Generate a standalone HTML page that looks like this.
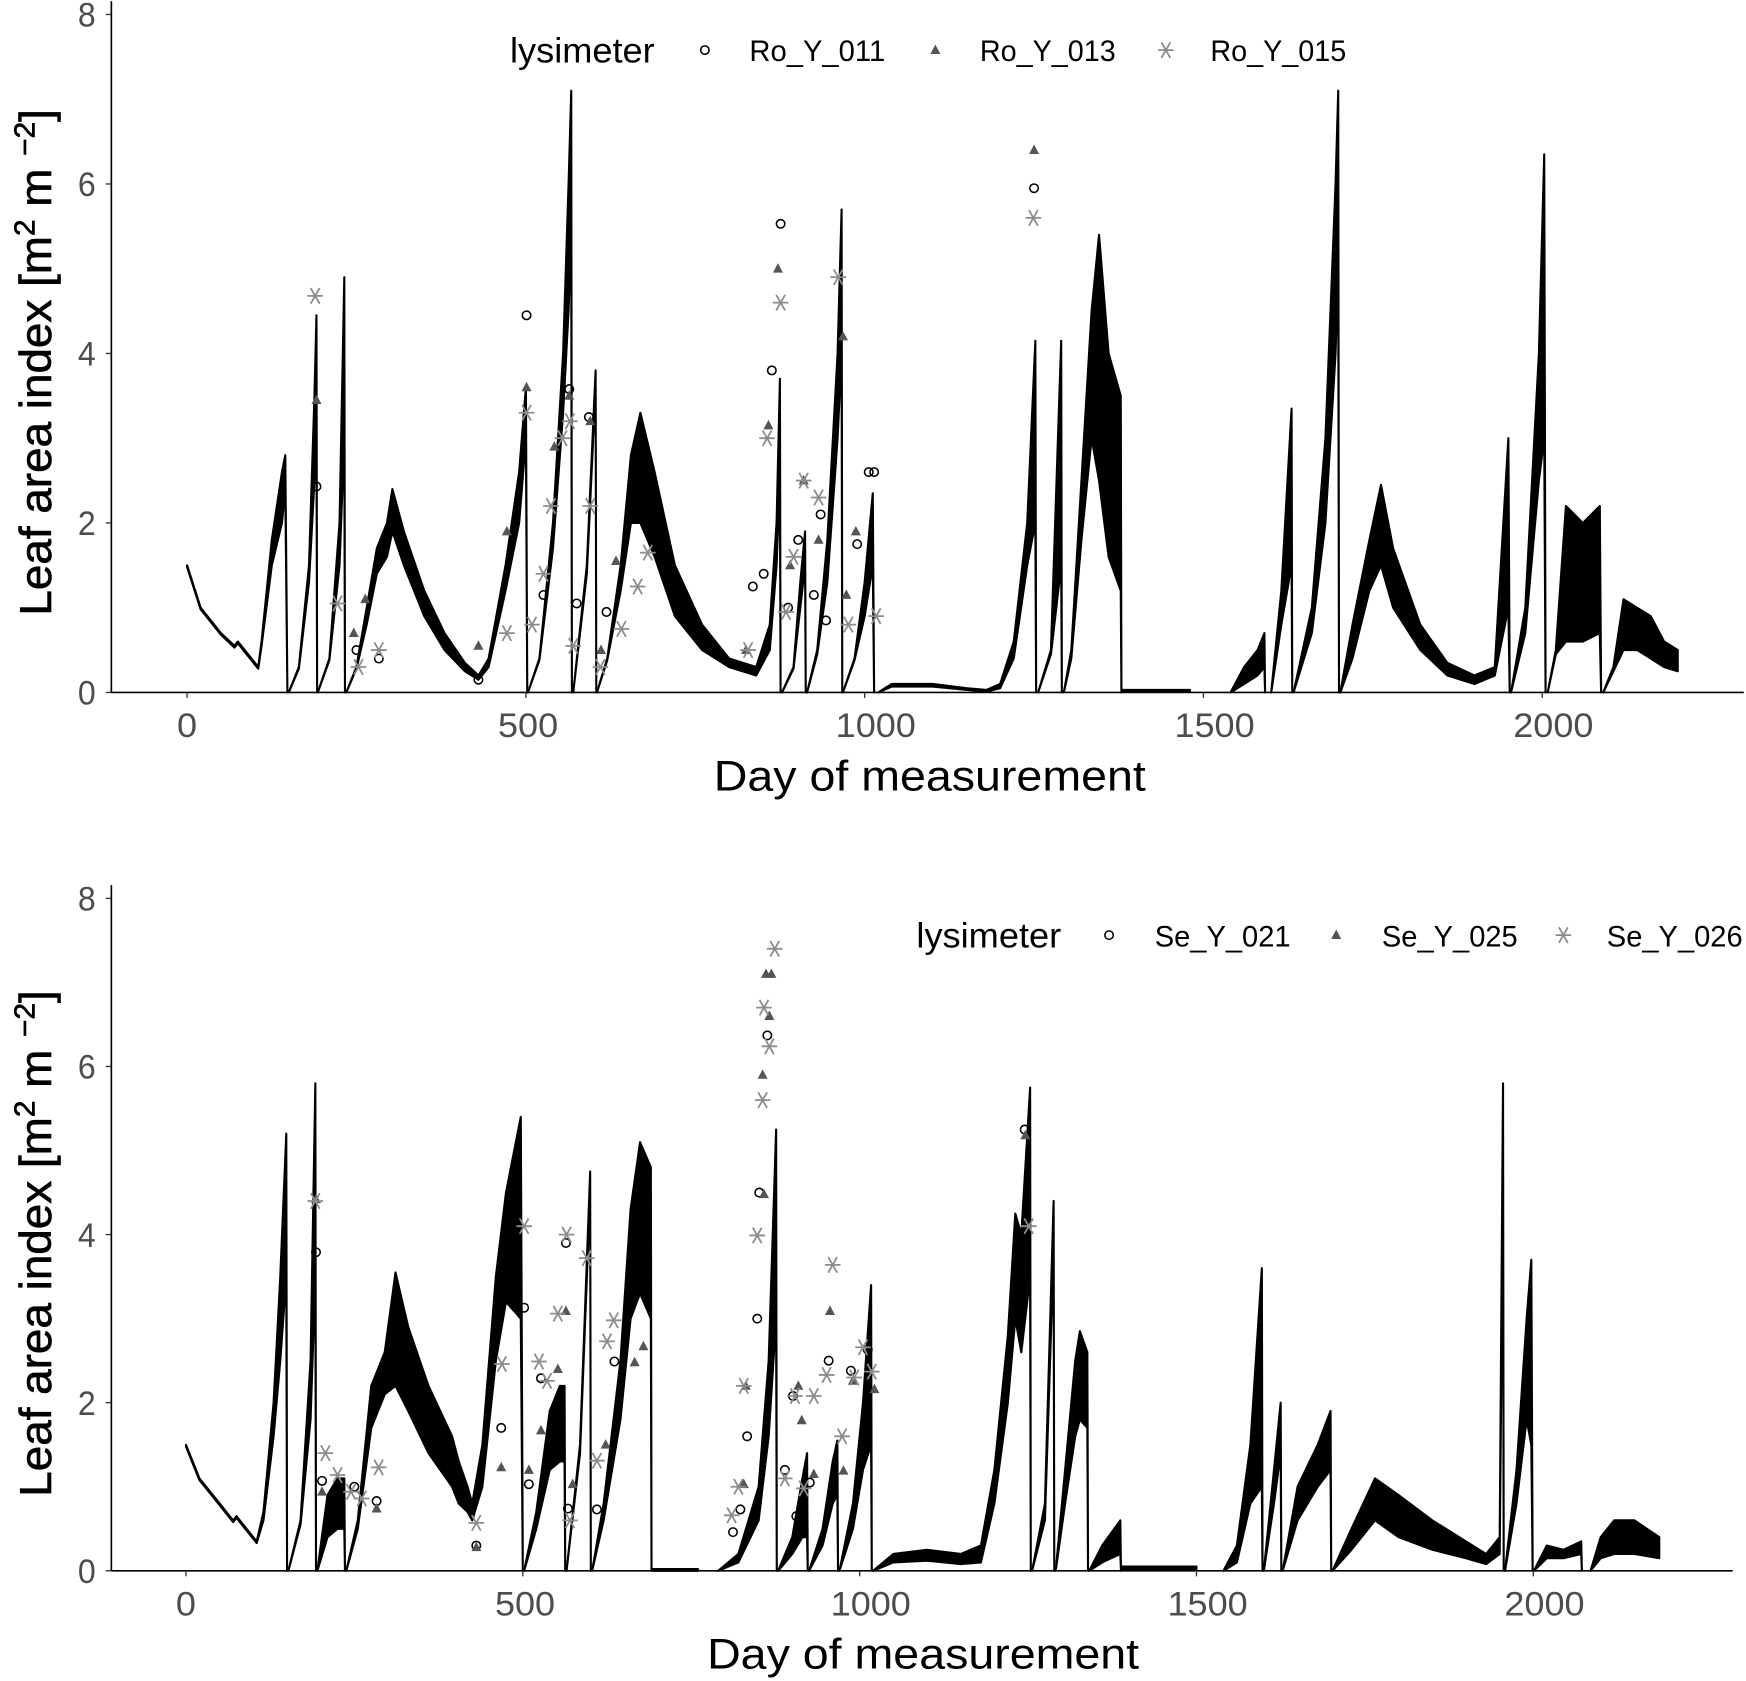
<!DOCTYPE html>
<html><head><meta charset="utf-8"><style>
html,body{margin:0;padding:0;background:#fff;}
svg{display:block;font-family:"Liberation Sans",sans-serif;}
</style></head><body>
<svg id="chart" width="1746" height="1681" viewBox="0 0 1568 1510" preserveAspectRatio="none" xmlns="http://www.w3.org/2000/svg"></svg>
<script>
// ---- Top panel (Ro) simulated envelope: days, upper, lower (null = segment break)
const roDays=[0,20,50,70,75,90,105,110,125,140,145,148,null,150,165,180,188,191,192,null,193,210,225,232,233,null,235,250,265,280,295,303,320,350,380,410,430,445,470,490,500,502,null,503,520,540,555,563,567,568,null,570,590,603,604,null,605,620,640,655,669,690,720,760,800,840,860,870,875,876,null,878,895,905,912,913,null,915,930,945,960,966,967,null,968,985,1000,1012,1014,null,1020,1040,1100,1150,1180,1200,1220,1240,1252,1253,null,1256,1275,1290,1291,null,1294,1305,1320,1335,1346,1360,1378,1379,null,1380,1480,null,1540,1560,1580,1590,1591,null,1600,1615,1630,1631,null,1633,1660,1680,1695,1699,1700,null,1702,1720,1745,1762,1780,1820,1860,1900,1930,1950,1952,null,1954,1975,1995,2003,2005,null,2008,2020,2035,2060,2085,2087,null,2090,2105,2120,2140,2160,2180,2200];
const roHi=[1.5,1.0,0.7,0.55,0.6,0.45,0.3,0.6,1.8,2.6,2.8,0,null,0,0.3,1.5,3.5,4.45,0,null,0,0.4,2.0,4.9,0,null,0,0.3,1.0,1.7,2.0,2.4,1.9,1.2,0.7,0.35,0.2,0.4,1.5,2.6,3.6,0,null,0,0.4,2.0,4.0,6.0,7.1,0,null,0,1.5,3.8,0,null,0,0.4,1.5,2.8,3.3,2.6,1.5,0.8,0.4,0.3,0.8,2.0,3.7,0,null,0,0.3,1.3,1.9,0,null,0,0.5,1.8,4.0,5.7,0,null,0,0.4,1.3,2.35,0,null,0,0.1,0.1,0.05,0.03,0.1,0.6,2.0,4.15,0,null,0,0.5,4.15,0,null,0,0.5,2.5,4.5,5.4,4.0,3.5,0,null,0.03,0.03,null,0,0.3,0.5,0.7,0,null,0,1.2,3.35,0,null,0,1.0,3.0,6.0,7.1,0,null,0,0.8,1.8,2.45,1.7,0.8,0.35,0.2,0.3,3.0,0,null,0,1.0,4.0,6.35,0,null,0,0.5,2.2,2.0,2.2,0,null,0,0.3,1.1,1.0,0.9,0.6,0.5];
const roLo=[1.48,0.98,0.68,0.53,0.58,0.43,0.28,0.55,1.5,2.0,2.4,0,null,0,0.28,1.3,2.5,3.0,0,null,0,0.38,1.5,3.0,0,null,0,0.28,0.8,1.4,1.6,1.9,1.5,0.9,0.5,0.25,0.15,0.3,1.2,2.0,3.0,0,null,0,0.38,1.7,3.3,4.5,5.5,0,null,0,1.4,3.6,0,null,0,0.38,1.2,2.0,2.0,1.6,0.9,0.5,0.3,0.2,0.5,1.5,2.5,0,null,0,0.28,1.0,1.5,0,null,0,0.45,1.3,3.0,4.0,0,null,0,0.38,0.9,1.5,0,null,0,0.07,0.07,0.03,0.01,0.05,0.4,1.5,2.0,0,null,0,0.45,1.5,0,null,0,0.4,1.8,3.0,2.5,1.6,1.2,0,null,0.01,0.01,null,0,0.1,0.2,0.3,0,null,0,0.8,1.5,0,null,0,0.7,2.0,4.0,5.0,0,null,0,0.4,1.2,1.5,1.0,0.5,0.2,0.1,0.2,1.0,0,null,0,0.7,2.5,3.0,0,null,0,0.45,0.6,0.6,0.7,0,null,0,0.25,0.5,0.5,0.4,0.3,0.25];
// ---- Top panel observations
const roCircD=[191,250,283,430,501,526,564,575,593,619,835,851,863,876,887,902,925,935,943,989,1006,1014,1250];
const roCircV=[2.43,0.5,0.4,0.15,4.45,1.15,3.58,1.05,3.25,0.95,1.25,1.4,3.8,5.53,1.0,1.8,1.15,2.1,0.85,1.75,2.6,2.6,5.95];
const roTriD=[191,246,263,430,472,501,542,564,595,633,611,858,872,890,910,932,968,973,987,1250,825];
const roTriV=[3.45,0.7,1.1,0.55,1.9,3.6,2.9,3.5,3.2,1.55,0.5,3.15,5.0,1.5,2.5,1.8,4.2,1.15,1.9,6.4,0.5];
const roAstD=[189,222,253,283,472,501,509,526,537,554,565,570,595,610,641,665,680,828,856,876,884,895,910,932,961,976,1017,1249];
const roAstV=[4.68,1.05,0.3,0.5,0.7,3.3,0.8,1.4,2.2,3.0,3.2,0.55,2.2,0.3,0.75,1.25,1.65,0.5,3.0,4.6,0.95,1.6,2.5,2.3,4.9,0.8,0.9,5.6];
// ---- Bottom panel (Se) simulated envelope
const seDays=[0,20,50,70,75,90,105,115,130,140,149,150,null,152,170,185,192,193,null,195,210,225,235,236,null,238,255,275,295,311,330,360,395,405,418,425,440,460,475,497,500,null,502,520,540,555,562,563,null,565,585,600,601,null,603,620,645,660,674,690,691,null,692,760,null,790,820,850,865,876,877,null,879,900,915,922,923,null,925,945,960,967,968,null,970,990,1005,1017,1018,null,1020,1050,1100,1150,1180,null,1180,1200,1220,1231,1240,1253,1254,null,1256,1275,1288,1289,null,1291,1305,1320,1327,1338,1339,null,1341,1360,1387,1388,null,1389,1500,null,1540,1560,1580,1597,1598,null,1600,1615,1625,1626,null,1628,1650,1680,1699,1700,null,1702,1730,1765,1800,1850,1900,1930,1950,1955,1956,null,1958,1975,1990,1997,1999,null,2001,2020,2045,2071,2072,null,2085,2100,2120,2150,2187];
const seHi=[1.5,1.1,0.8,0.6,0.65,0.5,0.35,0.7,2.0,3.5,5.2,0,null,0,0.6,2.5,5.8,0,null,0,0.9,1.1,1.1,0,null,0,0.6,2.2,2.6,3.55,2.9,2.2,1.6,1.3,1.0,0.8,1.5,3.5,4.5,5.4,0,null,0,0.7,1.9,2.2,2.2,0,null,0,1.5,4.75,0,null,0,0.8,2.5,4.3,5.1,4.8,0,null,0.02,0.02,null,0,0.2,1.0,2.5,5.25,0,null,0,0.4,1.1,1.4,0,null,0,0.5,1.3,1.55,0,null,0,0.8,2.0,3.4,0,null,0,0.2,0.25,0.2,0.3,null,0.3,1.2,2.8,4.25,4.0,5.75,0,null,0,0.8,4.4,0,null,0,1.2,2.5,2.85,2.6,0,null,0,0.3,0.6,0,null,0.05,0.05,null,0,0.3,1.5,3.6,0,null,0,1.2,2.0,0,null,0,1.0,1.5,1.9,0,null,0,0.5,1.1,0.9,0.6,0.35,0.2,0.4,5.8,0,null,0,1.2,3.0,3.7,0,null,0,0.3,0.25,0.35,0,null,0,0.4,0.6,0.6,0.4];
const seLo=[1.48,1.08,0.78,0.58,0.63,0.48,0.33,0.6,1.6,2.5,3.5,0,null,0,0.55,1.8,3.5,0,null,0,0.4,0.5,0.5,0,null,0,0.5,1.7,2.1,2.2,1.9,1.4,1.0,0.8,0.7,0.6,1.0,2.5,3.2,3.0,0,null,0,0.5,1.2,1.3,1.3,0,null,0,1.4,4.5,0,null,0,0.6,1.8,3.0,3.3,3.0,0,null,0.0,0.0,null,0,0.1,0.6,1.6,3.0,0,null,0,0.2,0.4,0.4,0,null,0,0.3,0.8,0.9,0,null,0,0.5,1.2,1.5,0,null,0,0.1,0.12,0.08,0.1,null,0.1,0.8,2.0,3.0,2.6,3.5,0,null,0,0.6,3.8,0,null,0,0.8,1.6,1.8,1.7,0,null,0,0.1,0.2,0,null,0.02,0.02,null,0,0.1,0.8,1.0,0,null,0,0.8,1.4,0,null,0,0.6,1.0,1.2,0,null,0,0.25,0.6,0.4,0.25,0.15,0.08,0.2,4.5,0,null,0,0.8,1.8,1.5,0,null,0,0.15,0.15,0.2,0,null,0,0.15,0.2,0.2,0.15];
// ---- Bottom panel observations
const seCircD=[202,250,283,431,468,502,509,527,564,567,610,636,812,823,833,848,851,863,889,901,906,926,954,987,1012,1245,193];
const seCircV=[1.07,1.0,0.83,0.3,1.7,3.13,1.03,2.29,3.9,0.74,0.73,2.49,0.46,0.73,1.6,3.0,4.5,6.37,1.2,2.08,0.65,1.05,2.5,2.38,2.63,5.25,3.79];
const seTriD=[202,283,431,468,509,527,552,564,574,623,666,679,831,828,856,858,861,869,866,914,909,932,956,976,990,1022,1246,193];
const seTriV=[0.94,0.74,0.28,1.23,1.2,1.67,2.4,3.09,1.03,1.5,2.48,2.67,2.2,1.03,5.9,4.48,7.1,7.1,6.6,1.79,2.2,1.15,3.09,1.19,2.26,2.16,5.18,4.42];
const seAstD=[192,207,225,245,261,286,431,469,502,524,536,552,565,570,595,610,625,635,810,820,828,848,856,858,866,874,889,904,917,932,951,960,974,992,1018,1005,1251];
const seAstV=[4.4,1.4,1.14,0.94,0.86,1.23,0.57,2.46,4.1,2.49,2.26,3.06,4.0,0.6,3.72,1.31,2.73,2.98,0.66,1.0,2.2,3.99,5.6,6.7,6.24,7.4,1.1,2.08,0.98,2.08,2.33,3.64,1.6,2.3,2.37,2.66,4.1];
const xTicks=[0,500,1000,1500,2000];
const yTicks=[0,2,4,6,8];
const roNames=["Ro_Y_011","Ro_Y_013","Ro_Y_015"];
const seNames=["Se_Y_021","Se_Y_025","Se_Y_026"];

const NS="http://www.w3.org/2000/svg";
const svg=document.getElementById('chart');
function mk(tag,attrs,parent,text){const e=document.createElementNS(NS,tag);for(const k in attrs)e.setAttribute(k,attrs[k]);if(text!==undefined)e.textContent=text;(parent||svg).appendChild(e);return e;}

function panel(P,days,hi,lo,obs,names,pname){
  const g=mk('g',{});
  
  
  const xs=d=>P.x0+(d/2000)*(P.x2000-P.x0);
  const ys=v=>P.y0-(v/8)*(P.y0-P.y8);
  let seg=[];
  const flush=()=>{ if(seg.length){
    const up=seg.map(i=>xs(days[i]).toFixed(1)+','+ys(hi[i]).toFixed(1));
    const dn=seg.slice().reverse().map(i=>xs(days[i]).toFixed(1)+','+ys(lo[i]).toFixed(1));
    const p=mk('polygon',{points:up.concat(dn).join(' '),fill:'#000',stroke:'#000','stroke-width':1.9,'stroke-linejoin':'round'},g);
    
    
  } seg=[]; };
  for(let i=0;i<days.length;i++){ if(days[i]===null){flush();} else seg.push(i); }
  flush();
  const ax=mk('line',{x1:P.ax,y1:P.y8-12,x2:P.ax,y2:P.y0,stroke:'#000','stroke-width':1.5},g);
  
  
  const bx=mk('line',{x1:P.ax,y1:P.y0,x2:P.xr,y2:P.y0,stroke:'#000','stroke-width':1.5},g);
  
  
  yTicks.forEach(v=>{
    mk('line',{x1:P.ax-5,y1:ys(v),x2:P.ax,y2:ys(v),stroke:'#333','stroke-width':1.2},g);
    const t=mk('text',{x:86,y:ys(v)+11,'text-anchor':'end','font-size':31,fill:'#4d4d4d',textLength:16,lengthAdjust:'spacingAndGlyphs'},g,String(v));
    
    
  });
  xTicks.forEach(d=>{
    mk('line',{x1:xs(d),y1:P.y0,x2:xs(d),y2:P.y0+5,stroke:'#333','stroke-width':1.2},g);
    const s=String(d);
    const t=mk('text',{x:xs(d)+(d>=1000?10:d>=500?2:0),y:P.y0+40,'text-anchor':'middle','font-size':31,fill:'#4d4d4d',textLength:s.length*18,lengthAdjust:'spacingAndGlyphs'},g,s);
    
    
  });
  const xt=mk('text',{x:P.xtc,y:P.y0+88,'text-anchor':'middle','font-size':38,fill:'#000',textLength:P.xtl,lengthAdjust:'spacingAndGlyphs'},g,'Day of measurement');
  
  
  const cy=(P.y0+P.y8)/2+8;
  const yt=mk('text',{transform:'translate(46,'+cy+') rotate(-90)','text-anchor':'middle','font-size':40,fill:'#000','stroke':'#000','stroke-width':0.6,textLength:455,lengthAdjust:'spacingAndGlyphs'},g);
  
  
  yt.innerHTML='Leaf area index [m<tspan dy="-15" font-size="26">2</tspan><tspan dy="15"> m </tspan><tspan dy="-15" font-size="26">−2</tspan><tspan dy="15">]</tspan>';
  const [cD,cV,tD,tV,aD,aV]=obs;
  cD.forEach((d,i)=>{const c=mk('circle',{cx:xs(d),cy:ys(cV[i]),r:3.8,fill:'none',stroke:'#000','stroke-width':1.4},g);
    
    });
  const tri=(x,y,col,par)=>mk('polygon',{points:(x)+','+(y-5)+' '+(x-4.5)+','+(y+3.5)+' '+(x+4.5)+','+(y+3.5),fill:col},par);
  tD.forEach((d,i)=>{const t=tri(xs(d),ys(tV[i]),'#555',g);
    
    });
  const ast=(x,y,par)=>{const a=mk('path',{d:'M'+(x-7)+','+y+'H'+(x+7)+'M'+(x-4)+','+(y-7)+'L'+(x+4)+','+(y+7)+'M'+(x+4)+','+(y-7)+'L'+(x-4)+','+(y+7),stroke:'#8c8c8c','stroke-width':1.6,fill:'none'},par);return a;};
  aD.forEach((d,i)=>{const a=ast(xs(d),ys(aV[i]),g);
    
    });
  const L=P.leg;
  const lg=mk('g',{},g);
  
  
  const lt=mk('text',{x:L[0],y:P.ly+11,'font-size':32,fill:'#000',textLength:130,lengthAdjust:'spacingAndGlyphs'},lg,'lysimeter');
  
  
  const c=mk('circle',{cx:L[1],cy:P.ly,r:3.8,fill:'none',stroke:'#000','stroke-width':1.4},lg);
  
  
  const t=tri(L[3],P.ly,'#555',lg);
  
  
  const a=ast(L[5],P.ly,lg);
  
  
  [L[2],L[4],L[6]].forEach((x,i)=>{const e=mk('text',{x:x,y:P.ly+10,'font-size':27,fill:'#000',textLength:122,lengthAdjust:'spacingAndGlyphs'},lg,names[i]);
    
    });
}
panel({x0:168,x2000:1385,y0:622,y8:13,ax:100,xr:1566,xtc:835,xtl:388,ly:45,leg:[458,633,673,840,880,1047,1087]},
  roDays,roHi,roLo,[roCircD,roCircV,roTriD,roTriV,roAstD,roAstV],roNames,'ro');
panel({x0:167,x2000:1377,y0:1411,y8:807,ax:100,xr:1556,xtc:829,xtl:388,ly:840,leg:[823,996,1037,1200,1241,1404,1443]},
  seDays,seHi,seLo,[seCircD,seCircV,seTriD,seTriV,seAstD,seAstV],seNames,'se');
</script>
</body></html>
